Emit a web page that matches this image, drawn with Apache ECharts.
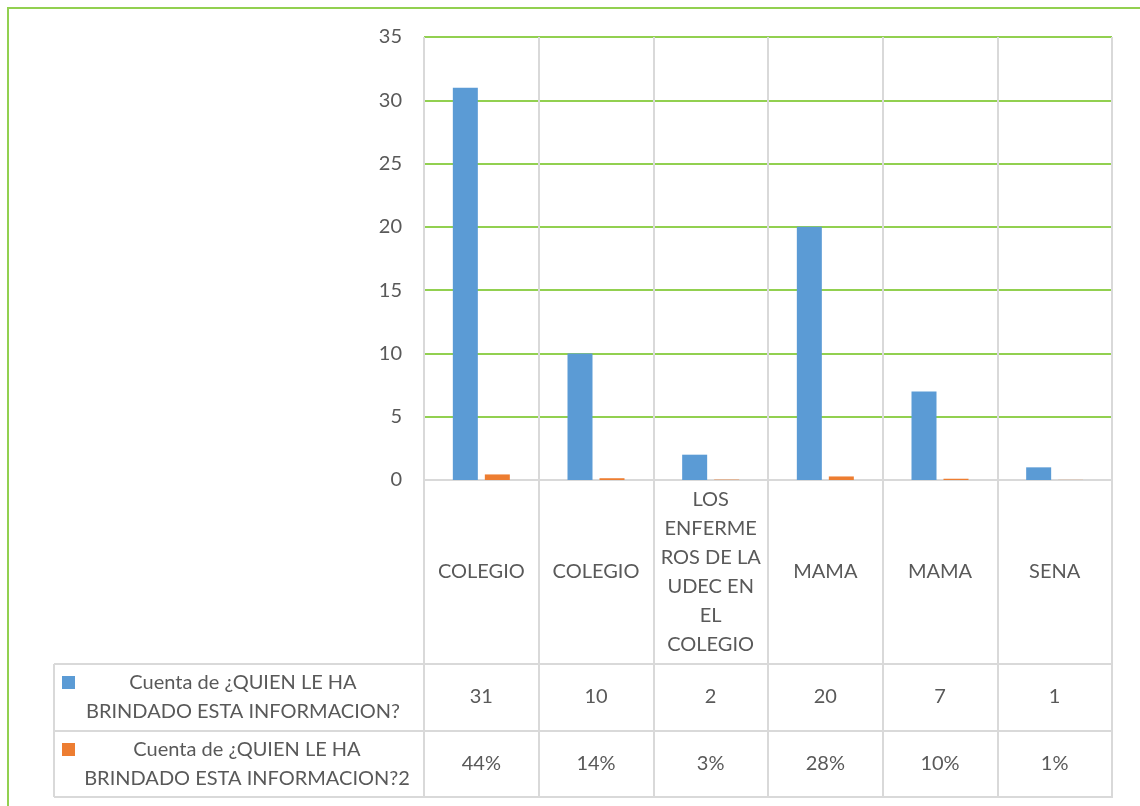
<!DOCTYPE html>
<html>
<head>
<meta charset="utf-8">
<script src="https://cdn.jsdelivr.net/npm/echarts@6/dist/echarts.min.js"></script>
<style>
html,body{margin:0;padding:0;background:#fff;}
#chart{width:1140px;height:806px;}
</style>
</head>
<body>
<div id="chart"></div>
<script>
const categories = ['COLEGIO', 'COLEGIO', 'LOS ENFERMEROS DE LA UDEC EN EL COLEGIO', 'MAMA', 'MAMA', 'SENA'];
const seriesNames = ['Cuenta de ¿QUIEN LE HA BRINDADO ESTA INFORMACION?', 'Cuenta de ¿QUIEN LE HA BRINDADO ESTA INFORMACION?2'];
const counts = [31, 10, 2, 20, 7, 1];
const shares = [0.44, 0.14, 0.03, 0.28, 0.10, 0.01];
const yTicks = { min: 0, max: 35, interval: 5 };

const colors = ['#5B9BD5', '#ED7D31'];
const textColor = '#595959';
const gridGreen = '#92D050';
const gray = '#D9D9D9';
const font = 'Lato, "Open Sans", sans-serif';

const wrapMap = { 'LOS ENFERMEROS DE LA UDEC EN EL COLEGIO': 'LOS\nENFERME\nROS DE LA\nUDEC EN\nEL\nCOLEGIO' };
const nameWrap = n => n.replace(' LE HA ', ' LE HA\n');

const chart = echarts.init(document.getElementById('chart'), null, { renderer: 'canvas' });

const tableAxis = (data, offset) => ({
  type: 'category', gridIndex: 0, position: 'bottom', offset: offset, data: data,
  axisLine: { show: false }, axisTick: { show: false }, splitLine: { show: false },
  axisLabel: { interval: 0, margin: 0, verticalAlign: 'middle', fontFamily: font, fontSize: 20, color: textColor }
});

const option = {
  animation: false,
  backgroundColor: '#fff',
  grid: { left: 424, top: 37, width: 688, height: 443, containLabel: false },
  yAxis: {
    type: 'value', min: yTicks.min, max: yTicks.max, interval: yTicks.interval,
    axisLine: { show: false }, axisTick: { show: false },
    splitLine: { show: true, lineStyle: { color: gridGreen, width: 2 } },
    axisLabel: { margin: 22, fontFamily: font, fontSize: 20, color: textColor }
  },
  xAxis: [
    {
      type: 'category', data: categories,
      axisLine: { show: true, lineStyle: { color: gray, width: 2 } },
      axisTick: { show: true, length: 318, lineStyle: { color: gray, width: 2 } },
      splitLine: { show: true, interval: 0, lineStyle: { color: gray, width: 2 } },
      axisLabel: {
        interval: 0, margin: 92, verticalAlign: 'middle', lineHeight: 29,
        fontFamily: font, fontSize: 20, color: textColor,
        formatter: v => wrapMap[v] || v
      }
    },
    tableAxis(counts.map(String), 217),
    tableAxis(shares.map(v => Math.round(v * 100) + '%'), 284)
  ],
  series: [
    { name: seriesNames[0], type: 'bar', xAxisIndex: 0, data: counts, barWidth: 25, barGap: '28%', itemStyle: { color: colors[0] } },
    { name: seriesNames[1], type: 'bar', xAxisIndex: 0, data: shares, barWidth: 25, barGap: '28%', itemStyle: { color: colors[1] } }
  ],
  graphic: [
    { type: 'rect', silent: true, shape: { x: 8, y: 8, width: 1300, height: 1000 }, style: { fill: 'none', stroke: gridGreen, lineWidth: 2 } },
    { type: 'line', silent: true, shape: { x1: 54, y1: 664, x2: 1112, y2: 664 }, style: { stroke: gray, lineWidth: 2 } },
    { type: 'line', silent: true, shape: { x1: 54, y1: 731, x2: 1112, y2: 731 }, style: { stroke: gray, lineWidth: 2 } },
    { type: 'line', silent: true, shape: { x1: 54, y1: 797, x2: 1112, y2: 797 }, style: { stroke: gray, lineWidth: 2 } },
    { type: 'line', silent: true, shape: { x1: 54, y1: 664, x2: 54, y2: 797 }, style: { stroke: gray, lineWidth: 2 } },
    { type: 'rect', silent: true, shape: { x: 62, y: 676, width: 13, height: 13 }, style: { fill: colors[0] } },
    { type: 'rect', silent: true, shape: { x: 62, y: 743, width: 13, height: 13 }, style: { fill: colors[1] } },
    { type: 'text', silent: true, x: 243, y: 697, style: { text: nameWrap(seriesNames[0]), fill: textColor, font: '20px ' + font, align: 'center', verticalAlign: 'middle', lineHeight: 29 } },
    { type: 'text', silent: true, x: 247, y: 764, style: { text: nameWrap(seriesNames[1]), fill: textColor, font: '20px ' + font, align: 'center', verticalAlign: 'middle', lineHeight: 29 } }
  ]
};
chart.setOption(option);
</script>
</body>
</html>
